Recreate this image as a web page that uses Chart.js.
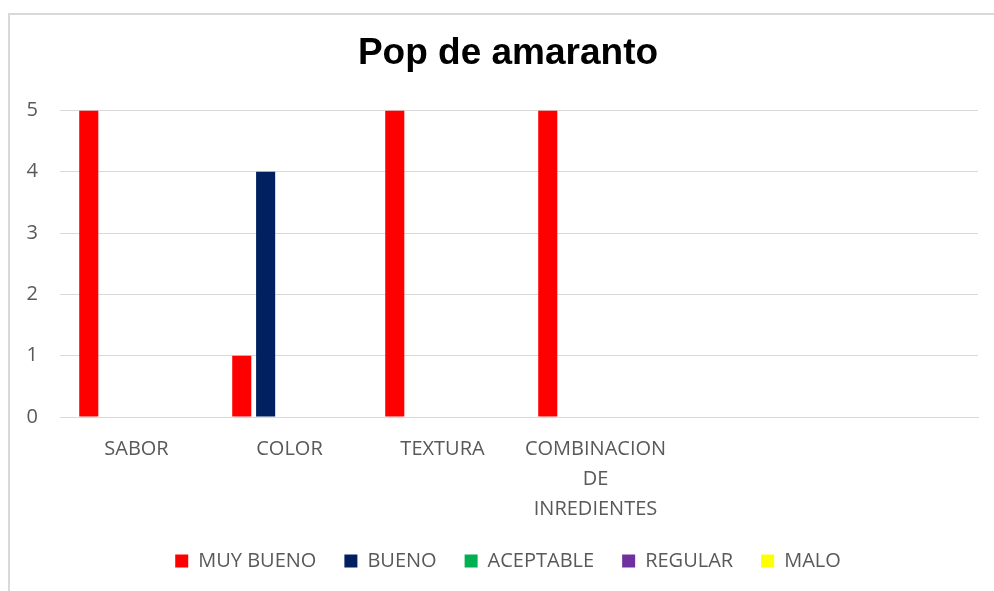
<!DOCTYPE html>
<html>
<head>
<meta charset="utf-8">
<script src="https://cdn.jsdelivr.net/npm/chart.js@4"></script>
<style>
  html, body { margin: 0; padding: 0; background: #fff; overflow: hidden; }
  #frame { position: absolute; left: 8px; top: 13px; width: 1000px; height: 600px; border: 2px solid #d9d9d9; box-sizing: border-box; }
  #wrap { position: absolute; left: 0; top: 0; width: 994px; height: 591px; }
</style>
</head>
<body>
<div id="frame"></div>
<div id="wrap"><canvas id="popChart"></canvas></div>
<script>
const categories = ['SABOR', 'COLOR', 'TEXTURA', ['COMBINACION', 'DE', 'INREDIENTES'], '', ''];
const muyBueno = [5, 1, 5, 5, null, null];
const bueno = [null, 4, null, null, null, null];
const aceptable = [null, null, null, null, null, null];
const regular = [null, null, null, null, null, null];
const malo = [null, null, null, null, null, null];
const yTicks = [0, 1, 2, 3, 4, 5];

const textColor = '#595959';
const font = 'Open Sans';

function dataset(label, data, color) {
    return {
        label: label,
        data: data,
        backgroundColor: color,
        borderWidth: 0,
        categoryPercentage: 0.78,
        barPercentage: 0.8
    };
}

const chartConfig = {
    type: 'bar',
    data: {
        labels: categories,
        datasets: [
            dataset('MUY BUENO', muyBueno, '#ff0000'),
            dataset('BUENO', bueno, '#002060'),
            dataset('ACEPTABLE', aceptable, '#00b050'),
            dataset('REGULAR', regular, '#7030a0'),
            dataset('MALO', malo, '#ffff00')
        ]
    },
    options: {
        responsive: true,
        maintainAspectRatio: false,
        animation: false,
        layout: { padding: { left: 22, right: 0, top: 0, bottom: 10 } },
        plugins: {
            title: {
                display: true,
                text: 'Pop de amaranto',
                color: '#000',
                font: { family: 'Liberation Sans', size: 37, weight: 'bold' },
                padding: { top: 32, bottom: 34 }
            },
            legend: {
                position: 'bottom',
                labels: {
                    color: textColor,
                    font: { family: font, size: 20 },
                    boxWidth: 13,
                    boxHeight: 13,
                    padding: 28
                }
            },
            tooltip: { enabled: false }
        },
        scales: {
            x: {
                grid: { display: false },
                border: { display: true, color: '#d9d9d9', width: 1 },
                afterFit: function (axis) {
                    axis.height = 106;
                },
                ticks: {
                    color: textColor,
                    font: { family: font, size: 20, lineHeight: 1.5 },
                    maxRotation: 0,
                    autoSkip: false,
                    padding: 9
                }
            },
            y: {
                min: 0,
                max: 5,
                afterBuildTicks: function (axis) {
                    axis.ticks = yTicks.map(v => ({ value: v }));
                },
                afterFit: function (axis) {
                    axis.width = 38;
                },
                grid: { color: '#d9d9d9', lineWidth: 1, drawTicks: false },
                border: { display: false },
                ticks: {
                    color: textColor,
                    font: { family: font, size: 20 },
                    padding: 22
                }
            },
            // empty axis that only keeps a margin on the right side
            yRight: {
                position: 'right',
                grid: { display: false, drawTicks: false },
                border: { display: false },
                ticks: { display: false },
                afterFit: function (axis) {
                    axis.width = 16;
                }
            }
        }
    }
};

new Chart(document.getElementById('popChart').getContext('2d'), chartConfig);
</script>
</body>
</html>
